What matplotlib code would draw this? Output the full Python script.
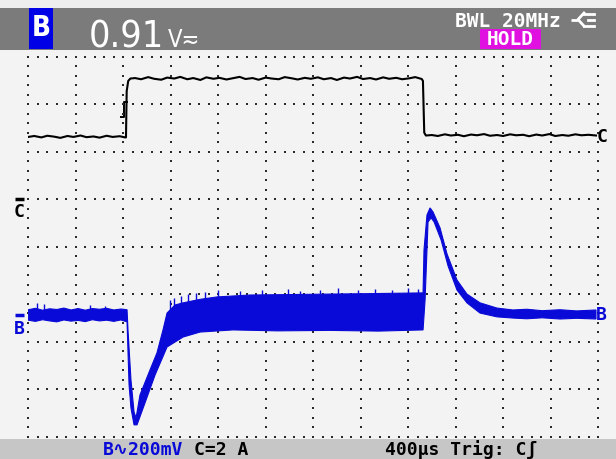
import matplotlib
matplotlib.use("Agg")
import matplotlib.pyplot as plt
import numpy as np
from matplotlib.patches import Rectangle

NARROW = dict(family=['DejaVu Sans'], fontstretch='condensed')
MONO = dict(family=['DejaVu Sans Mono', 'DejaVu Sans'], fontweight='bold')

# scope settings
t_div = 400.0       # us / div
b_scale = 200.0     # mV / div  (channel B)
c_scale = 2.0       # A / div   (channel C)
b_off = -1.44       # div, channel B zero marker
c_off = 1.0         # div, channel C zero marker

# channel C (current, A)
c_t1 = [0, 50, 110, 160, 220, 270, 330, 380, 440, 490, 550, 600, 660, 710, 770, 815]
c_a1 = [2.62, 2.66, 2.60, 2.67, 2.63, 2.58, 2.66, 2.62, 2.68, 2.61, 2.64, 2.59, 2.67, 2.62, 2.65, 2.60]
c_t2 = [823, 829, 842, 860]
c_a2 = [2.60, 4.55, 4.98, 5.08]
c_t3 = [900, 950, 1010, 1060, 1120, 1170, 1230, 1280, 1340, 1390,
        1450, 1500, 1560, 1610, 1670, 1720, 1780, 1830, 1890, 1940,
        2000, 2050, 2110, 2160, 2220, 2270, 2330, 2380, 2440, 2490,
        2550, 2600, 2660, 2710, 2770, 2820, 2880, 2930, 2990, 3040,
        3100, 3150, 3210, 3260, 3315]
c_a3 = [5.10, 5.05, 5.14, 5.07, 5.03, 5.12, 5.08, 5.15, 5.05, 5.10,
        5.02, 5.13, 5.07, 5.11, 5.04, 5.09, 5.15, 5.06, 5.10, 5.03,
        5.12, 5.08, 5.05, 5.14, 5.09, 5.04, 5.11, 5.07, 5.13, 5.05,
        5.10, 5.02, 5.12, 5.08, 5.15, 5.06, 5.10, 5.04, 5.13, 5.07,
        5.11, 5.05, 5.09, 5.14, 5.06]
c_t4 = [3325, 3336, 3350]
c_a4 = [4.98, 2.80, 2.68]
c_t5 = [3400, 3450, 3510, 3560, 3620, 3670, 3730, 3780, 3840, 3890,
        3950, 4000, 4060, 4110, 4170, 4220, 4280, 4330, 4390, 4440,
        4500, 4550, 4610, 4660, 4720, 4783]
c_a5 = [2.70, 2.66, 2.73, 2.68, 2.71, 2.65, 2.72, 2.69, 2.74, 2.67,
        2.70, 2.66, 2.73, 2.69, 2.71, 2.65, 2.72, 2.68, 2.74, 2.66,
        2.70, 2.67, 2.73, 2.69, 2.71, 2.68]

# channel B (voltage, mV) - envelope of the noisy trace
b_up_t = [0, 60, 120, 180, 240, 300, 360, 420, 480, 540, 600, 660, 720, 780, 832,
          840, 865, 891, 908, 941, 1025, 1084, 1135, 1169, 1236, 1304, 1450, 1590, 1868, 2200, 2542, 2900, 3326,
          3334, 3359, 3385, 3410, 3469, 3528, 3612, 3696, 3806, 3949, 4084, 4200, 4330, 4480, 4620, 4783]
b_up_v = [22, 28, 20, 26, 23, 29, 21, 27, 20, 27, 24, 28, 21, 25, 22,
          -63, -274, -409, -434, -337, -232, -160, -63, 8, 42, 51, 66, 76, 84, 86, 88, 90, 93,
          274, 421, 451, 434, 367, 257, 147, 88, 51, 29, 21, 24, 18, 22, 17, 21]
b_lo_t = [0, 60, 120, 180, 240, 300, 360, 420, 480, 540, 600, 660, 720, 780, 832,
          849, 865, 891, 916, 983, 1068, 1169, 1304, 1447, 1725, 2100, 2542, 2950, 3326,
          3343, 3368, 3394, 3419, 3478, 3537, 3612, 3696, 3806, 3949, 4084, 4200, 4330, 4480, 4620, 4783]
b_lo_v = [-22, -27, -20, -25, -29, -21, -26, -23, -28, -20, -25, -22, -27, -21, -29,
          -295, -392, -463, -463, -371, -253, -135, -93, -72, -63, -67, -65, -68, -63,
          63, 392, 409, 392, 316, 206, 105, 51, 8, -8, -13, -16, -12, -17, -14, -17]
# noise spikes on top of the B band
spk_t = [73, 132, 520, 646, 1194, 1228, 1287, 1346, 1414, 1489, 1599, 1784, 1970,
         2189, 2289, 2458, 2610, 2778, 2922, 3065, 3200, 3284]
spk_v = [51, 46, 42, 38, 63, 72, 80, 88, 93, 97, 105, 101, 105,
         110, 101, 105, 114, 105, 110, 105, 114, 110]

BLUE = '#0a0ad8'

fig = plt.figure(figsize=(6.16, 4.59), dpi=100)
fig.patch.set_facecolor('#f3f3f3')

# frame: header / footer (pixel coordinates)
bg = fig.add_axes([0, 0, 1, 1], zorder=0)
bg.set_xlim(0, 616)
bg.set_ylim(459, 0)
bg.axis('off')
bg.add_patch(Rectangle((0, 0), 616, 8, color='#eeeeee', lw=0))
bg.add_patch(Rectangle((0, 8), 616, 42, color='#7b7b7b', lw=0))
bg.add_patch(Rectangle((0, 439), 616, 20, color='#c6c6c6', lw=0))

bg.add_patch(Rectangle((29, 8), 24, 41, color='#0000e6', lw=0))
bg.text(41, 28.5, 'B', color='white', fontsize=20, fontweight='bold',
        ha='center', va='center', **NARROW)
bg.text(89, 47, '0.91', color='white', fontsize=27, ha='left', va='baseline', **NARROW)
bg.text(168, 47, 'V\u2242', color='white', fontsize=17, ha='left', va='baseline', **NARROW)
bg.text(455, 27, 'BWL 20MHz', color='white', fontsize=14, ha='left', va='baseline', **MONO)
# probe / plug symbol
bg.plot([571, 578], [19.5, 19.5], color='white', lw=2, solid_capstyle='butt')
bg.plot([584, 578, 584], [13, 19.5, 26], color='white', lw=2)
bg.plot([584, 594], [13.5, 13.5], color='white', lw=2)
bg.plot([584, 594], [25.5, 25.5], color='white', lw=2)
bg.plot([588, 594], [19.5, 19.5], color='white', lw=2)
bg.add_patch(Rectangle((480, 29), 61, 20, color='#e010e0', lw=0))
bg.text(510.5, 39.5, 'HOLD', color='white', fontsize=14, ha='center', va='center', **MONO)

bg.text(103, 450, 'B\u223f200mV', color=BLUE, fontsize=13, ha='left', va='center', **MONO)
bg.text(194, 450, 'C=2 A', color='black', fontsize=13, ha='left', va='center', **MONO)
bg.text(385, 450, '400\u00b5s Trig: C\u0283', color='black', fontsize=13, ha='left', va='center', **MONO)
# trigger symbol
bg.plot([121, 124, 124, 127], [117, 117, 102, 102], color='black', lw=1.4)

# scope screen
ax = fig.add_axes([28.3 / 616, (459 - 436.5) / 459, (598 - 28.3) / 616, (436.5 - 56.7) / 459],
                  zorder=1)
ax.set_facecolor('none')
ax.set_xlim(0, 12 * t_div)
ax.set_ylim(-4, 4)
ax.axis('off')

# dotted graticule
sub_t = np.arange(0, 12 * t_div + 1, t_div / 5)
sub_y = np.arange(-4, 4.01, 0.2)
for k in range(-4, 5):
    ax.scatter(sub_t, np.full(sub_t.size, k), s=1.6, marker='s', color='#2a2a2a', lw=0, clip_on=False)
for j in range(13):
    ax.scatter(np.full(sub_y.size, j * t_div), sub_y, s=1.6, marker='s', color='#2a2a2a', lw=0, clip_on=False)

# channel C
c_t = np.r_[c_t1, c_t2, c_t3, c_t4, c_t5]
c_a = np.r_[c_a1, c_a2, c_a3, c_a4, c_a5]
ax.plot(c_t, c_a / c_scale + c_off, color='black', lw=1.5, zorder=3)

# channel B
bu = np.array(b_up_v) / b_scale + b_off
bl = np.array(b_lo_v) / b_scale + b_off
ax.fill(np.r_[b_up_t, b_lo_t[::-1]], np.r_[bu, bl[::-1]], color=BLUE, lw=0.8, zorder=4)
base = np.interp(spk_t, b_up_t, bu)
ax.vlines(spk_t, base, np.array(spk_v) / b_scale + b_off, color=BLUE, lw=1.0, zorder=4)

# channel markers
yt = ax.get_yaxis_transform()
ax.plot([-0.0235, -0.0075], [c_off, c_off], transform=yt, color='black', lw=2.5,
        solid_capstyle='butt', clip_on=False)
ax.text(-0.0155, c_off - 0.28, 'C', transform=yt, color='black', fontsize=13,
        ha='center', va='center', clip_on=False, **MONO)
ax.plot([-0.0235, -0.0075], [b_off, b_off], transform=yt, color=BLUE, lw=2.5,
        solid_capstyle='butt', clip_on=False)
ax.text(-0.0155, b_off - 0.30, 'B', transform=yt, color=BLUE, fontsize=13,
        ha='center', va='center', clip_on=False, **MONO)
ax.text(0.997, b_off, 'B', transform=yt, color=BLUE, fontsize=13,
        ha='left', va='center', clip_on=False, **MONO)
ax.text(0.997, c_a5[-1] / c_scale + c_off - 0.03, 'C', transform=yt, color='black', fontsize=13,
        ha='left', va='center', clip_on=False, **MONO)

fig.savefig('out.png', dpi=100, facecolor=fig.get_facecolor())
